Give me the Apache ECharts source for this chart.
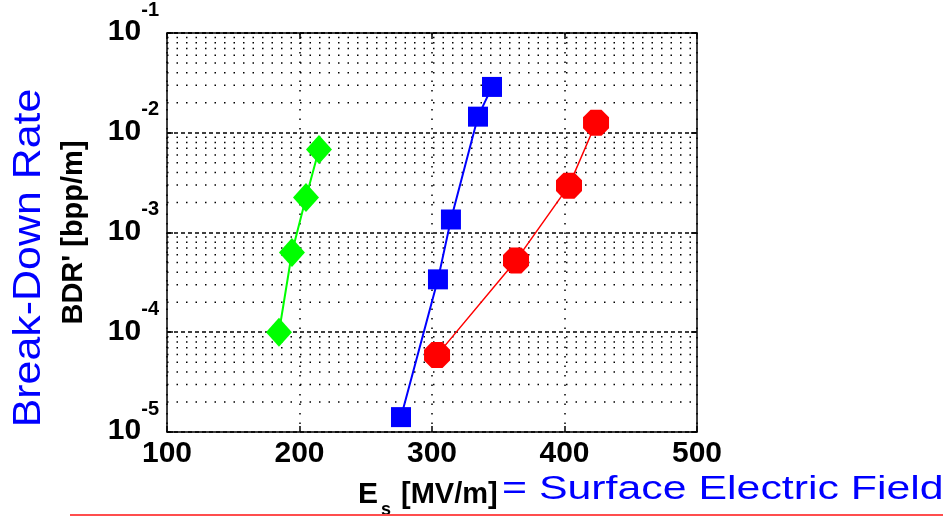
<!DOCTYPE html>
<html>
<head>
<meta charset="utf-8">
<script src="https://cdn.jsdelivr.net/npm/echarts@6/dist/echarts.min.js"></script>
<style>
html,body{margin:0;padding:0;background:#fff;}
#chart{width:943px;height:517px;}
</style>
</head>
<body>
<div id="chart"></div>
<script>
// ---- data ----
const greenX = [184.5, 194.3, 204.9, 214.7];
const greenY = [1.0e-4, 6.3e-4, 2.24e-3, 6.8e-3];
const blueX = [276.6, 304.5, 314.3, 334.7, 345.3];
const blueY = [1.41e-5, 3.39e-4, 1.35e-3, 1.45e-2, 2.88e-2];
const redX = [303.8, 363.4, 403.4, 423.8];
const redY = [5.9e-5, 5.25e-4, 2.95e-3, 1.26e-2];
const xMin = 100, xMax = 500, xStep = 100;
const yMin = 1e-5, yMax = 1e-1;
const minorMultipliers = [2, 3, 4, 5, 6, 7, 8, 9];
const xTitleBlack = 'E';
const xTitleSub = 's';
const xTitleUnit = '[MV/m]';
const xTitleBlue = '= Surface Electric Field';
const yTitleBlack = "BDR' [bpp/m]";
const yTitleBlue = 'Break-Down Rate';

const FONT = "'Liberation Sans', Arial, sans-serif";
const zip = (xs, ys) => xs.map((x, i) => [x, ys[i]]);
const minorVals = [];
for (let d = -5; d < -1; d++) {
  minorMultipliers.forEach(m => minorVals.push(+(m * Math.pow(10, d)).toPrecision(3)));
}
const octagon = 'path://M29,0 L71,0 L100,29 L100,71 L71,100 L29,100 L0,71 L0,29 Z';

const minorSeries = minorVals.map(v => ({
  type: 'line', data: [[xMin, v], [xMax, v]], silent: true, symbol: 'none',
  lineStyle: {color: '#000', width: 1.5, type: [1.5, 8]}, z: 1,
  emphasis: {disabled: true}
}));

const chart = echarts.init(document.getElementById('chart'), null, {renderer: 'canvas'});
const axisLineStyle = {color: '#000', width: 1.5};
chart.setOption({
  animation: false,
  backgroundColor: '#fff',
  grid: {left: 167, right: 246, top: 32, bottom: 85, containLabel: false},
  xAxis: [{
    type: 'value', min: xMin, max: xMax, interval: xStep,
    axisLine: {show: true, lineStyle: axisLineStyle, onZero: false},
    axisTick: {show: true, inside: true, length: 6, lineStyle: {color: '#000', width: 1.5}},
    axisLabel: {color: '#000', fontSize: 30, fontFamily: FONT, fontWeight: 'bold', margin: 7},
    splitLine: {show: true, lineStyle: {color: '#000', width: 1.5, type: [1.5, 8]}}
  }, {
    type: 'value', position: 'top', min: xMin, max: xMax, interval: xStep,
    axisLine: {show: true, lineStyle: axisLineStyle, onZero: false},
    axisTick: {show: true, inside: true, length: 6, lineStyle: {color: '#000', width: 1.5}},
    axisLabel: {show: false}, splitLine: {show: false}
  }],
  yAxis: [{
    type: 'log', logBase: 10, min: yMin, max: yMax,
    name: yTitleBlack, nameLocation: 'middle', nameGap: 79,
    nameTextStyle: {color: '#000', fontSize: 29, fontFamily: FONT, fontWeight: 'bold'},
    axisLine: {show: true, lineStyle: axisLineStyle, onZero: false},
    axisTick: {show: true, inside: true, length: 6, lineStyle: {color: '#000', width: 1.5}},
    axisLabel: {
      color: '#000', margin: 8, padding: [0, 0, 2, 0],
      formatter: v => '{b|10}{s|' + Math.round(Math.log10(v)) + '}',
      rich: {
        b: {fontSize: 30, lineHeight: 30, fontFamily: FONT, fontWeight: 'bold', color: '#000', verticalAlign: 'bottom'},
        s: {fontSize: 20, lineHeight: 20, fontFamily: FONT, fontWeight: 'bold', color: '#000', verticalAlign: 'bottom', padding: [0, 0, 27, 0]}
      }
    },
    splitLine: {show: true, lineStyle: {color: '#000', width: 1.5, type: [4, 3]}}
  }, {
    type: 'log', logBase: 10, min: yMin, max: yMax, position: 'right',
    axisLine: {show: true, lineStyle: axisLineStyle, onZero: false},
    axisTick: {show: true, inside: true, length: 6, lineStyle: {color: '#000', width: 1.5}},
    axisLabel: {show: false}, splitLine: {show: false}
  }],
  series: minorSeries.concat([{
    name: 'green', type: 'line', data: zip(greenX, greenY),
    symbol: 'diamond', symbolSize: [26, 29],
    itemStyle: {color: '#00ff00'}, lineStyle: {color: '#00ff00', width: 2}, z: 5
  }, {
    name: 'blue', type: 'line', data: zip(blueX, blueY),
    symbol: 'rect', symbolSize: 20,
    itemStyle: {color: '#0000ff'}, lineStyle: {color: '#0000ff', width: 2}, z: 5
  }, {
    name: 'red', type: 'line', data: zip(redX, redY),
    symbol: octagon, symbolSize: 26, symbolKeepAspect: true,
    itemStyle: {color: '#ff0000'}, lineStyle: {color: '#ff0000', width: 1.5}, z: 5
  }]),
  graphic: [
    {type: 'text', x: 29, y: 258, rotation: Math.PI / 2, scaleX: 1.1,
     style: {text: yTitleBlue, fill: '#0000ff', font: '39px ' + FONT, align: 'center', verticalAlign: 'middle'}},
    {type: 'text', x: 358, y: 495,
     style: {text: xTitleBlack, fill: '#000', font: 'bold 30px ' + FONT, align: 'left', verticalAlign: 'middle'}},
    {type: 'text', x: 381, y: 510,
     style: {text: xTitleSub, fill: '#000', font: 'bold 18px ' + FONT, align: 'left', verticalAlign: 'middle'}},
    {type: 'text', x: 401, y: 495,
     style: {text: xTitleUnit, fill: '#000', font: 'bold 29px ' + FONT, align: 'left', verticalAlign: 'middle'}},
    {type: 'text', x: 502, y: 490, scaleX: 1.26,
     style: {text: xTitleBlue, fill: '#0000ff', font: '34px ' + FONT, align: 'left', verticalAlign: 'middle'}},
    {type: 'line', shape: {x1: 70, y1: 515, x2: 943, y2: 515},
     style: {stroke: '#ff4d4d', lineWidth: 2}}
  ]
});
</script>
</body>
</html>
